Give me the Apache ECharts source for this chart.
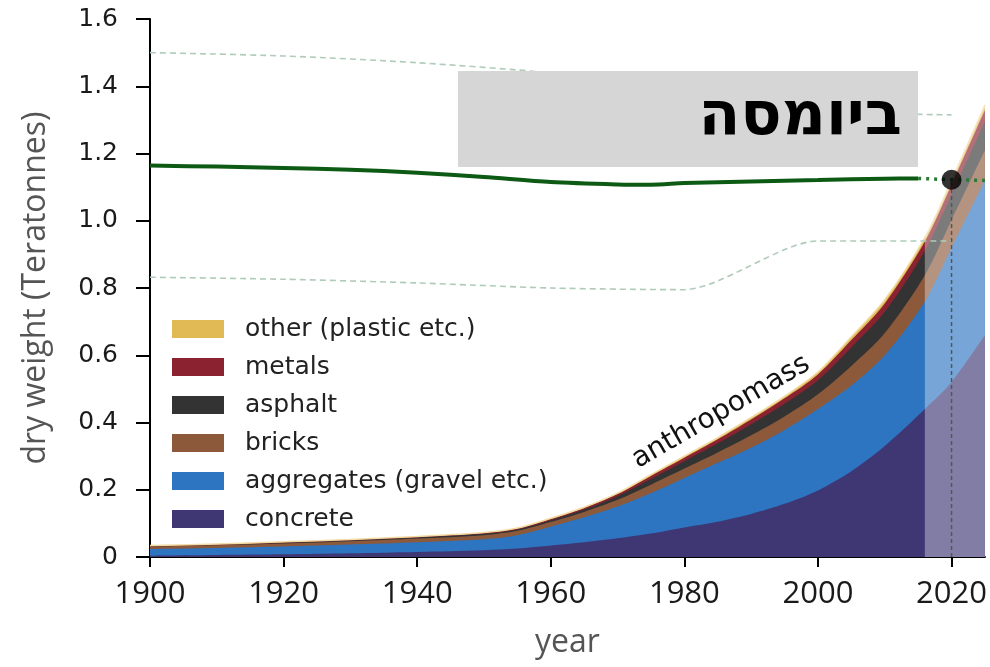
<!DOCTYPE html>
<html>
<head>
<meta charset="utf-8">
<script src="https://cdn.jsdelivr.net/npm/echarts@6/dist/echarts.min.js"></script>
<style>html,body{margin:0;padding:0;background:#fff;overflow:hidden}#c{width:990px;height:667px}</style>
</head>
<body>
<div id="c"></div>
<script>
// ---- data ----
const years     = [1900,1910,1920,1930,1940,1950,1955,1960,1965,1970,1975,1980,1985,1990,1995,2000,2005,2010,2016,2020,2025];
const concrete  = [0.004,0.006,0.008,0.011,0.015,0.020,0.025,0.034,0.044,0.056,0.070,0.088,0.105,0.128,0.158,0.198,0.255,0.330,0.440,0.520,0.660];
const aggregates= [0.020,0.021,0.023,0.026,0.029,0.033,0.040,0.056,0.074,0.094,0.120,0.147,0.175,0.197,0.220,0.242,0.255,0.270,0.320,0.400,0.460];
const bricks    = [0.007,0.008,0.009,0.010,0.011,0.012,0.013,0.014,0.016,0.020,0.025,0.028,0.031,0.037,0.040,0.044,0.058,0.066,0.078,0.082,0.090];
const asphalt   = [0.0005,0.001,0.002,0.002,0.003,0.004,0.004,0.005,0.007,0.011,0.017,0.022,0.027,0.033,0.038,0.042,0.055,0.063,0.072,0.076,0.085];
const metals    = [0.0015,0.002,0.002,0.002,0.002,0.003,0.003,0.004,0.005,0.006,0.009,0.010,0.012,0.014,0.016,0.017,0.022,0.025,0.028,0.029,0.034];
const other     = [0.001,0.001,0.001,0.001,0.001,0.001,0.001,0.002,0.002,0.003,0.004,0.005,0.005,0.006,0.006,0.007,0.010,0.011,0.012,0.013,0.016];

const bioYears  = [1900,1910,1920,1930,1940,1950,1960,1970,1975,1980,1990,2000,2010,2015];
const biomass   = [1.164,1.161,1.157,1.152,1.143,1.130,1.115,1.108,1.107,1.112,1.117,1.121,1.125,1.126];
const bioProjYears = [2015,2020,2025];
const bioProj   = [1.126,1.122,1.120];
const boundYears= [1900,1920,1940,1960,1980,2000,2020];
const upperBound= [1.500,1.490,1.470,1.440,1.400,1.330,1.315];
const lowerBound= [0.832,0.826,0.815,0.800,0.795,0.940,0.940];
const markYear  = 2020;
const markValue = 1.122;
const projRange = [2016, 2025];

const names  = ['concrete','aggregates (gravel etc.)','bricks','asphalt','metals','other (plastic etc.)'];
const layers = [concrete, aggregates, bricks, asphalt, metals, other];
const colors = ['#3e3774','#2d74c1','#8c5a3b','#333333','#8a2230','#e1b955'];
const yTicks = [0,0.2,0.4,0.6,0.8,1.0,1.2,1.4,1.6];
const xTicks = [1900,1920,1940,1960,1980,2000,2020];

const zip = (xs, ys) => xs.map((x,i)=>[x, ys[i]]);

// cumulative tops of each layer (stack built from the arrays above)
const cum = [];
layers.forEach((arr, i) => {
  cum.push(arr.map((v, j) => v + (i > 0 ? cum[i-1][j] : 0)));
});

const series = [];
for (let i = layers.length - 1; i >= 0; i--) {
  series.push({
    name: names[i], type: 'line', data: zip(years, cum[i]),
    smooth: 0.3, symbol: 'none', z: 2,
    lineStyle: { width: i === 5 ? 1.5 : 0, color: i === 5 ? '#f2dca6' : colors[i] },
    areaStyle: { color: colors[i], opacity: 1, origin: 'start' },
    itemStyle: { color: colors[i] }
  });
}

const yMax = yTicks[yTicks.length-1];
series.push({
  name: 'proj', type: 'line', data: zip(projRange, [yMax, yMax]),
  symbol: 'none', z: 3, lineStyle: { width: 0 },
  areaStyle: { color: 'rgba(255,255,255,0.5)', origin: 'start' }
});
series.push({
  name: 'upper', type: 'line', data: zip(boundYears, upperBound), smooth: 0.3, symbol: 'none', z: 4,
  lineStyle: { color: '#afcbb9', width: 1.6, type: [6,4] }
});
series.push({
  name: 'lower', type: 'line', data: zip(boundYears, lowerBound), smooth: 0.25, symbol: 'none', z: 4,
  lineStyle: { color: '#afcbb9', width: 1.6, type: [6,4] }
});
series.push({
  name: 'biomass', type: 'line', data: zip(bioYears, biomass), smooth: 0.3, symbol: 'none', z: 5,
  lineStyle: { color: '#0d5a14', width: 4 }
});
series.push({
  name: 'biomassProj', type: 'line', data: zip(bioProjYears, bioProj), symbol: 'none', z: 5,
  lineStyle: { color: '#2a7a34', width: 3.5, type: [3,5] }
});
series.push({
  name: 'vline', type: 'line', data: [[markYear, 0],[markYear, markValue]], symbol: 'none', z: 5,
  lineStyle: { color: '#555', width: 1.5, type: [4,3] }
});
series.push({
  name: 'dot', type: 'scatter', data: [[markYear, markValue]], symbolSize: 20, z: 6,
  itemStyle: { color: '#000' }
});

const chart = echarts.init(document.getElementById('c'));
chart.setOption({
  animation: false,
  backgroundColor: '#fff',
  grid: { left: 150, width: 840, top: 19, bottom: 110, containLabel: false },
  legend: {
    data: names.slice().reverse(),
    orient: 'vertical', left: 172, top: 315, padding: 0,
    icon: 'rect', itemWidth: 52, itemHeight: 18, itemGap: 10,
    textStyle: { fontFamily: 'DejaVu Sans', fontSize: 25, color: '#222', lineHeight: 28, padding: [0,0,0,16] },
    selectedMode: false
  },
  xAxis: {
    type: 'value', min: 1900, max: 2025, interval: 20,
    name: 'year', nameLocation: 'middle', nameGap: 70,
    nameTextStyle: { fontFamily: '"Open Sans"', fontSize: 32, color: '#555' },
    axisLine: { show: true, lineStyle: { color: '#000', width: 2 } },
    axisTick: { show: true, length: 10, customValues: xTicks, lineStyle: { color: '#000', width: 2 } },
    axisLabel: { margin: 22, customValues: xTicks, fontFamily: '"Open Sans"', fontSize: 31, color: '#1a1a1a',
      formatter: v => xTicks.includes(v) ? String(v) : '' },
    splitLine: { show: false }
  },
  yAxis: {
    type: 'value', min: 0, max: 1.6, interval: 0.2,
    name: 'dry weight (Teratonnes)', nameLocation: 'middle', nameGap: 98,
    nameTextStyle: { fontFamily: '"Open Sans"', fontSize: 32, color: '#555' },
    axisLine: { show: true, lineStyle: { color: '#000', width: 2 } },
    axisTick: { show: true, length: 14, lineStyle: { color: '#000', width: 2 } },
    axisLabel: { margin: 32, fontFamily: 'DejaVu Sans', fontSize: 25, color: '#1a1a1a',
      formatter: v => { const t = yTicks.find(k => Math.abs(k - v) < 1e-9); return t === 0 ? '0' : t.toFixed(1); } },
    splitLine: { show: false }
  },
  graphic: [
    { type: 'rect', z: 100, shape: { x: 458, y: 71, width: 460, height: 96 }, style: { fill: '#d6d6d6' } },
    { type: 'text', z: 101, x: 902, y: 118,
      style: { text: 'ביומסה', align: 'right', verticalAlign: 'middle', font: 'bold 61px "DejaVu Sans"', fill: '#000' } },
    { type: 'text', z: 101, x: 721, y: 412, rotation: 30 * Math.PI / 180,
      style: { text: 'anthropomass', align: 'center', verticalAlign: 'middle', font: '28px "DejaVu Sans"', fill: '#111' } }
  ],
  series: series
});
</script>
</body>
</html>
